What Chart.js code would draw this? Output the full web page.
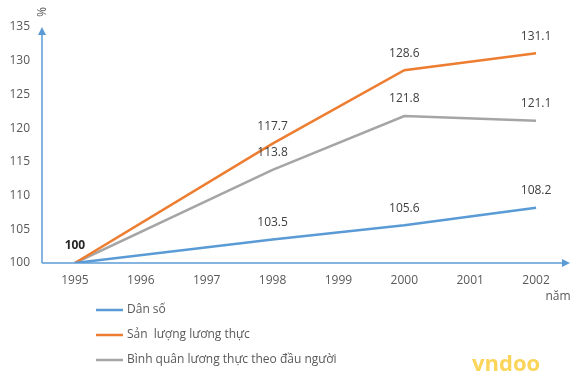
<!DOCTYPE html>
<html><head><meta charset="utf-8">
<script src="https://cdn.jsdelivr.net/npm/chart.js@4/dist/chart.umd.min.js"></script>
<style>html,body{margin:0;padding:0;background:#fff}#wrap{width:578px;height:378px;position:relative}</style>
</head><body><div id="wrap"><canvas id="c" width="578" height="378"></canvas></div>
<script>
const years = ['1995','1996','1997','1998','1999','2000','2001','2002'];
const danSo = [100, null, null, 103.5, null, 105.6, null, 108.2];
const sanLuong = [100, null, null, 117.7, null, 128.6, null, 131.1];
const binhQuan = [100, null, null, 113.8, null, 121.8, null, 121.1];
const seriesNames = ['Dân số', 'Sản  lượng lương thực', 'Bình quân lương thực theo đầu người'];
const yTicks = [100, 105, 110, 115, 120, 125, 130, 135];

const FONT = "'Open Sans', 'Liberation Sans', sans-serif";
const TXT = '#595959';

const decor = {
  id: 'decor',
  afterDatasetsDraw(chart) {
    const ctx = chart.ctx, x = chart.scales.x, y = chart.scales.y;
    const ca = chart.chartArea;
    ctx.save();
    // axes with arrows
    ctx.strokeStyle = '#5B9BD5'; ctx.fillStyle = '#5B9BD5'; ctx.lineWidth = 1.5;
    ctx.beginPath(); ctx.moveTo(ca.left, ca.bottom); ctx.lineTo(ca.left, ca.top + 6); ctx.stroke();
    ctx.beginPath(); ctx.moveTo(ca.left, ca.top); ctx.lineTo(ca.left - 4, ca.top + 8); ctx.lineTo(ca.left + 4, ca.top + 8); ctx.closePath(); ctx.fill();
    ctx.beginPath(); ctx.moveTo(ca.left, ca.bottom); ctx.lineTo(ca.right - 6, ca.bottom); ctx.stroke();
    ctx.beginPath(); ctx.moveTo(ca.right + 1, ca.bottom); ctx.lineTo(ca.right - 7, ca.bottom - 4); ctx.lineTo(ca.right - 7, ca.bottom + 4); ctx.closePath(); ctx.fill();
    // axis titles
    ctx.fillStyle = TXT; ctx.font = '12px ' + FONT;
    ctx.save(); ctx.translate(40, 12); ctx.rotate(Math.PI / 2); ctx.textAlign = 'center'; ctx.textBaseline = 'middle'; ctx.fillText('%', 0, 0); ctx.restore();
    ctx.textAlign = 'center'; ctx.textBaseline = 'middle'; ctx.fillText('năm', 558, 297);
    // data labels
    ctx.font = '12px ' + FONT; ctx.fillStyle = '#404040';
    chart.data.datasets.forEach((ds, di) => {
      ds.data.forEach((v, i) => {
        if (v === null) return;
        if (i === 0) return;
        const px = x.getPixelForValue(i), py = y.getPixelForValue(v);
        ctx.fillText(v.toFixed(1), px, py - 17);
      });
    });
    ctx.font = 'bold 12px ' + FONT; ctx.fillStyle = '#262626';
    ctx.fillText('100', x.getPixelForValue(0), y.getPixelForValue(100) - 17);
    // legend
    ctx.font = '12px ' + FONT; ctx.textAlign = 'left';
    chart.data.datasets.forEach((ds, di) => {
      const ly = 310 + di * 25;
      ctx.strokeStyle = ds.borderColor; ctx.lineWidth = 2.5;
      ctx.beginPath(); ctx.moveTo(96, ly); ctx.lineTo(123, ly); ctx.stroke();
      ctx.fillStyle = TXT; ctx.fillText(ds.label, 127, ly);
    });
    // watermark
    ctx.font = 'bold 22px ' + FONT; ctx.fillStyle = '#FBD55A'; ctx.textAlign = 'left';
    ctx.fillText('vndoo', 472, 365);
    ctx.restore();
  }
};

new Chart(document.getElementById('c'), {
  type: 'line',
  data: {
    labels: years,
    datasets: [
      { label: seriesNames[0], data: danSo, borderColor: '#5B9BD5', backgroundColor: '#5B9BD5' },
      { label: seriesNames[1], data: sanLuong, borderColor: '#ED7D31', backgroundColor: '#ED7D31' },
      { label: seriesNames[2], data: binhQuan, borderColor: '#A5A5A5', backgroundColor: '#A5A5A5' }
    ].map(d => Object.assign(d, { spanGaps: true, pointRadius: 0, borderWidth: 2.5, tension: 0, fill: false }))
  },
  options: {
    responsive: false, animation: false,
    layout: { padding: { top: 27, right: 9, left: 0, bottom: 0 } },
    plugins: { legend: { display: false }, tooltip: { enabled: false } },
    scales: {
      x: {
        offset: true,
        grid: { display: false, drawTicks: false }, border: { display: false },
        ticks: { color: TXT, font: { family: FONT, size: 12 }, padding: 10, maxRotation: 0 },
        afterFit(s) { s.height = 115; }
      },
      y: {
        min: 100, max: 135,
        grid: { display: false, drawTicks: false }, border: { display: false },
        afterBuildTicks(s) { s.ticks = yTicks.map(v => ({ value: v })); },
        ticks: { color: TXT, font: { family: FONT, size: 12 }, padding: 12 },
        afterFit(s) { s.width = 42; }
      }
    }
  },
  plugins: [decor]
});
</script></body></html>
